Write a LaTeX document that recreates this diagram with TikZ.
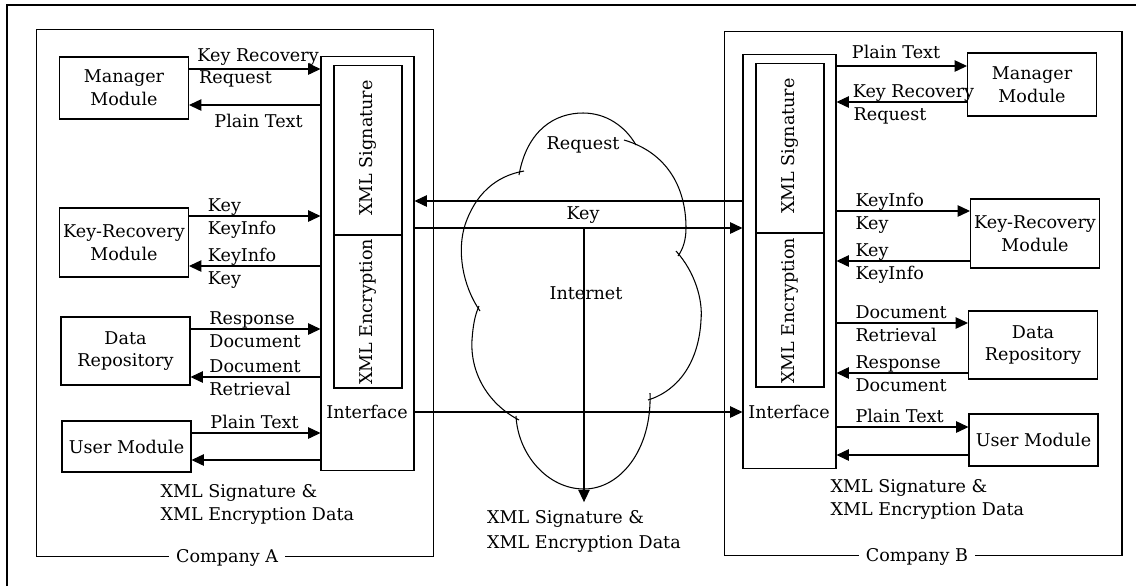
\documentclass[tikz,border=0pt]{standalone}
\usepackage{fontspec}
\setmainfont{DejaVu Serif}
\usetikzlibrary{arrows.meta}

\begin{document}
\begin{tikzpicture}[x=0.02cm, y=-0.02cm, > = {Triangle[length=7pt, width=6.5pt]},
		line width=0.6pt, font=\fontsize{10}{13}\selectfont,
		modbox/.style={draw, align=center, minimum width=2.58cm, inner sep=1pt},
		ifbox/.style={draw, minimum width=1.86cm, minimum height=8.3cm},
		xmlbox/.style={draw, minimum width=1.36cm},
		upper/.style={anchor=base west, inner sep=0pt, xshift=10.5pt, yshift=2.5pt},
		lower/.style={anchor=base west, inner sep=0pt, xshift=10.5pt, yshift=-10.5pt},
		compname/.style={fill=white, inner xsep=4pt, inner ysep=1pt}]
	\useasboundingbox (0,0) rectangle (1136,586);
	\draw (7,586) -- (7,5) -- (1136,5);
	
	% Company A
	\node [draw, minimum width=7.96cm, minimum height=10.56cm] (compA) at (235,293) {};
	\node [compname, xshift=-4.5pt] (compAlbl) at (compA.south) {Company A};
	\node [ifbox] (ifA) at (367.5,263.5) {};
	\node [xmlbox, minimum height=6.46cm] (secA) at (368,226.5) {};
	\draw (secA.west |- 0,235) -- (secA.east |- 0,235);
	\node [rotate=90] (sigA) at (368,148) {XML Signature};
	\node [rotate=90] (encA) at (368,312) {XML Encryption};
	\node (ifAlbl) at (367,412) {Interface};
	
	\node [modbox, minimum height=1.24cm] (mgrA) at (124,88) {Manager\\Module};
	\node [modbox, minimum height=1.38cm] (keyA) at (124,242.5) {Key-Recovery\\Module};
	\node [modbox, minimum height=1.36cm] (dataA) at (125.5,351) {Data\\Repository};
	\node [modbox, minimum height=1.02cm] (userA) at (126.5,446.5) {User Module};
	
	\draw [->] (mgrA.east |- 0,69) node [upper, xshift=-6pt, yshift=2pt] {Key Recovery}
		node [lower, xshift=-5pt, yshift=2.5pt] {Request} -- (ifA.west |- 0,69);
	\draw [->] (ifA.west |- 0,105) -- (mgrA.east |- 0,105) node [lower, xshift=3.7pt, yshift=-2.5pt] {Plain Text};
	\draw [->] (keyA.east |- 0,216) node [upper] {Key} node [lower] {KeyInfo} -- (ifA.west |- 0,216);
	\draw [->] (ifA.west |- 0,266) -- (keyA.east |- 0,266) node [upper] {KeyInfo} node [lower] {Key};
	\draw [->] (dataA.east |- 0,329) node [upper] {Response} node [lower] {Document} -- (ifA.west |- 0,329);
	\draw [->] (ifA.west |- 0,377) -- (dataA.east |- 0,377) node [upper] {Document} node [lower] {Retrieval};
	\draw [->] (userA.east |- 0,433) node [upper] {Plain Text} -- (ifA.west |- 0,433);
	\draw [->] (ifA.west |- 0,460) -- (userA.east |- 0,460);
	\node [align=left, anchor=north west, inner sep=0pt] (xmlA) at (160,484) {XML Signature \&\\XML Encryption Data};
	
	% Company B
	\node [draw, minimum width=7.96cm, minimum height=10.5cm] (compB) at (923,293.5) {};
	\node [compname, xshift=-3.4pt] (compBlbl) at (compB.south) {Company B};
	\node [ifbox] (ifB) at (789.5,261.5) {};
	\node [xmlbox, minimum height=6.48cm] (secB) at (790,225) {};
	\draw (secB.west |- 0,233) -- (secB.east |- 0,233);
	\node [rotate=90] (sigB) at (790,146) {XML Signature};
	\node [rotate=90] (encB) at (790,311) {XML Encryption};
	\node (ifBlbl) at (789,412) {Interface};
	
	\node [modbox, minimum height=1.26cm] (mgrB) at (1032,84.5) {Manager\\Module};
	\node [modbox, minimum height=1.38cm] (keyB) at (1035,233.5) {Key-Recovery\\Module};
	\node [modbox, minimum height=1.36cm] (dataB) at (1033,345) {Data\\Repository};
	\node [modbox, minimum height=1.04cm] (userB) at (1033.5,440) {User Module};
	
	\draw [->] (ifB.east |- 0,66) node [upper, xshift=-2pt, yshift=1.5pt] {Plain Text} -- (mgrB.west |- 0,66);
	\draw [->] (mgrB.west |- 0,102) -- (ifB.east |- 0,102) node [upper, xshift=-1.5pt] {Key Recovery}
		node [lower, xshift=-1pt] {Request};
	\draw [->] (ifB.east |- 0,211) node [upper] {KeyInfo} node [lower] {Key} -- (keyB.west |- 0,211);
	\draw [->] (keyB.west |- 0,261) -- (ifB.east |- 0,261) node [upper] {Key} node [lower] {KeyInfo};
	\draw [->] (ifB.east |- 0,323) node [upper] {Document} node [lower] {Retrieval} -- (dataB.west |- 0,323);
	\draw [->] (dataB.west |- 0,373) -- (ifB.east |- 0,373) node [upper] {Response} node [lower] {Document};
	\draw [->] (ifB.east |- 0,427) node [upper] {Plain Text} -- (userB.west |- 0,427);
	\draw [->] (userB.west |- 0,455) -- (ifB.east |- 0,455);
	\node [align=left, anchor=north west, inner sep=0pt] (xmlB) at (830,479) {XML Signature \&\\XML Encryption Data};
	
	% Internet cloud
	\draw (519,175) .. controls (527,130) and (555,113) .. (583,113) .. controls (606,113) and (625,126) .. (636,145);
	\draw (624,140) .. controls (665,152) and (686,185) .. (686,228) .. controls (686,240) and (683,249) .. (678,256);
	\draw (676,251) .. controls (695,272) and (703,300) .. (701,320) .. controls (699,360) and (680,390) .. (648,400);
	\draw (650,393) .. controls (652,450) and (620,489) .. (584,489) .. controls (548,489) and (518,455) .. (516,416);
	\draw (519,420) .. controls (490,405) and (470,375) .. (472,340) .. controls (473,325) and (475,315) .. (479,306);
	\draw (480,311) .. controls (462,285) and (457,250) .. (465,225) .. controls (475,195) and (495,176) .. (524,171);
	\node (reqC) at (583,145) {Request};
	\node (netC) at (586,293) {Internet};
	
	\draw [->] (ifB.west |- 0,201) -- (ifA.east |- 0,201);
	\draw [->] (ifA.east |- 0,228) -- (ifB.west |- 0,228);
	\node (keyC) at (583,215) {Key};
	\coordinate (split) at (584,228);
	\node [align=left, anchor=north, inner sep=0pt, font=\fontsize{10}{14}\selectfont] (xmlC) at (584,510) {XML Signature \&\\XML Encryption Data};
	\draw [->, shorten >=4.5pt] (split) -- (xmlC.north);
	\draw [->] (ifA.east |- 0,412) -- (ifB.west |- 0,412);
\end{tikzpicture}
\end{document}
